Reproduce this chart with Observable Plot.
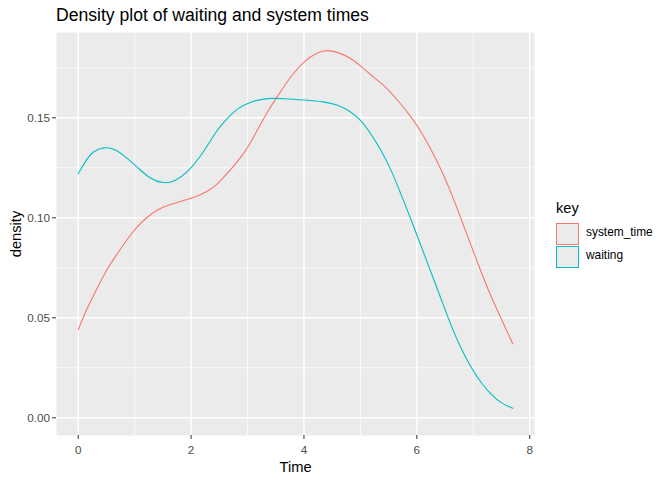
<!DOCTYPE html>
<html>
<head>
<meta charset="utf-8">
<script src="https://cdn.jsdelivr.net/npm/d3@7"></script>
<script src="https://cdn.jsdelivr.net/npm/@observablehq/plot@0.6"></script>
<style>
  body { margin: 0; background: #fff; font-family: "Liberation Sans", Arial, sans-serif; }
  #wrap { position: relative; width: 672px; height: 480px; }
  #title { position: absolute; left: 56px; top: 7px; font-size: 17.6px; line-height: 1; color: #000; white-space: nowrap; }
  #legend { position: absolute; left: 556px; top: 0; }
  .ltitle { position: absolute; left: 0; top: 201px; font-size: 14.7px; line-height: 1; color: #000; }
  .lrow { position: absolute; left: 0; width: 116px; height: 22px; }
  .lbox { position: absolute; left: 0; top: 0; width: 21px; height: 20px; background: #EBEBEB; border: 1px solid; }
  .llab { position: absolute; left: 30px; top: 4px; font-size: 11.9px; line-height: 1; color: #000; white-space: nowrap; }
</style>
</head>
<body>
<div id="wrap">
  <div id="title">Density plot of waiting and system times</div>
  <div id="chart"></div>
  <div id="legend"></div>
</div>
<script>
// Series keys and colours
const keys = ["system_time", "waiting"];
const colors = ["#F8766D", "#00BFC4"];

// system_time density curve (Time, density)
const sysTime = [0, 0.137, 0.315, 0.494, 0.673, 0.851, 1.03, 1.208, 1.387, 1.625, 1.923, 2.16, 2.351, 2.446, 2.587, 2.823, 3.0, 3.177, 3.354, 3.531, 3.767, 4.0, 4.24, 4.416, 4.593, 4.83, 5.065, 5.193, 5.4, 5.668, 5.905, 6.083, 6.261, 6.44, 6.617, 6.795, 6.973, 7.15, 7.33, 7.537, 7.70];
const sysDens = [0.044, 0.0537, 0.0637, 0.0737, 0.0812, 0.0887, 0.0953, 0.100, 0.104, 0.1067, 0.109, 0.1112, 0.1143, 0.1163, 0.1205, 0.128, 0.1347, 0.144, 0.1532, 0.1607, 0.1708, 0.1784, 0.1829, 0.1839, 0.1829, 0.180, 0.1745, 0.1712, 0.1668, 0.1587, 0.1503, 0.1428, 0.1337, 0.1237, 0.112, 0.0987, 0.0853, 0.072, 0.0595, 0.047, 0.037];

// waiting density curve (Time, density)
const waitTime = [0, 0.137, 0.256, 0.464, 0.643, 0.851, 1.06, 1.268, 1.506, 1.714, 1.923, 2.16, 2.351, 2.446, 2.587, 2.823, 3.06, 3.354, 3.65, 4.0, 4.357, 4.593, 4.83, 5.006, 5.18, 5.365, 5.55, 5.727, 5.905, 6.083, 6.261, 6.44, 6.617, 6.795, 6.973, 7.15, 7.33, 7.507, 7.70];
const waitDens = [0.122, 0.1287, 0.1333, 0.1355, 0.1345, 0.1303, 0.125, 0.1195, 0.117, 0.1182, 0.1223, 0.1303, 0.1388, 0.1432, 0.1482, 0.1549, 0.1582, 0.1599, 0.1596, 0.1589, 0.1581, 0.1566, 0.1532, 0.149, 0.1423, 0.134, 0.1237, 0.1112, 0.0987, 0.0853, 0.072, 0.0587, 0.0453, 0.0337, 0.0245, 0.017, 0.0112, 0.007, 0.0048];

// Axis ticks
const xTicks = [0, 2, 4, 6, 8];
const xMinor = [1, 3, 5, 7];
const yTicks = [0, 0.05, 0.10, 0.15];
const yMinor = [0.025, 0.075, 0.125, 0.175];

const rows = [
  ...sysTime.map((t, i) => ({Time: t, density: sysDens[i], key: keys[0]})),
  ...waitTime.map((t, i) => ({Time: t, density: waitDens[i], key: keys[1]}))
];

const chart = Plot.plot({
  width: 672,
  height: 480,
  marginLeft: 56,
  marginRight: 138,
  marginTop: 32,
  marginBottom: 45,
  style: {fontFamily: "Liberation Sans, Arial, sans-serif", background: "transparent"},
  x: {domain: [-0.385, 8.085], ticks: xTicks},
  y: {domain: [-0.00885, 0.19265], ticks: yTicks},
  color: {domain: keys, range: colors},
  marks: [
    Plot.frame({fill: "#EBEBEB", stroke: null}),
    Plot.gridX(xMinor, {stroke: "white", strokeOpacity: 1, strokeWidth: 0.7}),
    Plot.gridY(yMinor, {stroke: "white", strokeOpacity: 1, strokeWidth: 0.7}),
    Plot.gridX(xTicks, {stroke: "white", strokeOpacity: 1, strokeWidth: 1.4}),
    Plot.gridY(yTicks, {stroke: "white", strokeOpacity: 1, strokeWidth: 1.4}),
    Plot.line(rows, {x: "Time", y: "density", z: "key", stroke: "key", strokeWidth: 1.1, curve: "basis"}),
    Plot.axisX(xTicks, {tickSize: 4, tickPadding: 6, stroke: "#333333", fill: "#4D4D4D", fontSize: 11.7,
      label: "Time", labelAnchor: "center", labelArrow: "none", labelOffset: 36}),
    Plot.axisY(yTicks, {tickSize: 4, tickPadding: 2.5, stroke: "#333333", fill: "#4D4D4D", fontSize: 11.7,
      tickFormat: d3.format(".2f"),
      label: "density", labelAnchor: "center", labelArrow: "none", labelOffset: 46})
  ]
});
document.getElementById("chart").appendChild(chart);

// Style axis label texts (black, larger)
chart.querySelectorAll("g[aria-label='x-axis label'] text, g[aria-label='y-axis label'] text").forEach(t => {
  t.setAttribute("fill", "#000");
  t.style.fontSize = "14.7px";
});
chart.querySelectorAll("g[aria-label='x-axis label'], g[aria-label='y-axis label']").forEach(g => {
  g.setAttribute("fill", "#000");
  g.setAttribute("font-size", "14.7");
});

// Legend (ggplot-style)
const legend = document.getElementById("legend");
const lt = document.createElement("div");
lt.className = "ltitle";
lt.textContent = "key";
legend.appendChild(lt);
keys.forEach((k, i) => {
  const row = document.createElement("div");
  row.className = "lrow";
  row.style.top = (223 + i * 23) + "px";
  const box = document.createElement("div");
  box.className = "lbox";
  box.style.borderColor = colors[i];
  const lab = document.createElement("div");
  lab.className = "llab";
  lab.textContent = k;
  row.appendChild(box);
  row.appendChild(lab);
  legend.appendChild(row);
});
</script>
</body>
</html>
